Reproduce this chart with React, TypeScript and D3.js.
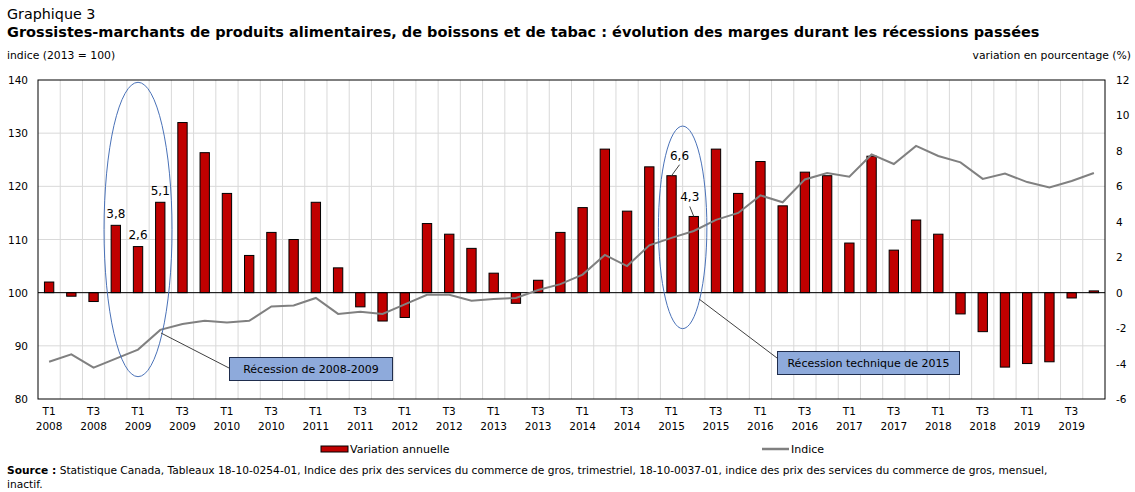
import * as d3 from "d3";

// quarterly series, T1 2008 .. T4 2019
const years = [2008, 2009, 2010, 2011, 2012, 2013, 2014, 2015, 2016, 2017, 2018, 2019];
const quarters = years.flatMap((y) => [1, 2, 3, 4].map((q) => `T${q} ${y}`));

// annual change (%), right axis
const variation = [
  0.6, -0.2, -0.5, 3.8, 2.6, 5.1, 9.6, 7.9, 5.6, 2.1, 3.4, 3.0,
  5.1, 1.4, -0.8, -1.6, -1.4, 3.9, 3.3, 2.5, 1.1, -0.6, 0.7, 3.4,
  4.8, 8.1, 4.6, 7.1, 6.6, 4.3, 8.1, 5.6, 7.4, 4.9, 6.8, 6.6,
  2.8, 7.7, 2.4, 4.1, 3.3, -1.2, -2.2, -4.2, -4.0, -3.9, -0.3, 0.1,
];

// index (2013 = 100), left axis
const indice = [
  87.0, 88.4, 85.9, 87.6, 89.3, 93.0, 94.1, 94.7, 94.4, 94.7, 97.4, 97.6,
  99.0, 96.0, 96.4, 96.0, 97.8, 99.6, 99.6, 98.5, 98.8, 99.0, 100.5, 101.6,
  103.4, 107.1, 105.0, 108.9, 110.3, 111.6, 113.7, 115.0, 118.3, 117.0, 121.3, 122.5,
  121.8, 126.0, 124.2, 127.6, 125.7, 124.5, 121.4, 122.4, 120.8, 119.8, 121.0, 122.5,
];

const leftTicks = [80, 90, 100, 110, 120, 130, 140];
const rightTicks = [-6, -4, -2, 0, 2, 4, 6, 8, 10, 12];

// bars that carry a value label
const barLabels = [
  { i: 3, dx: 0, dy: -6, leader: false },
  { i: 4, dx: 0, dy: -7, leader: false },
  { i: 5, dx: 0, dy: -6, leader: false },
  { i: 28, dx: 8, dy: -15, leader: true },
  { i: 29, dx: -4, dy: -14, leader: true },
];

const FONT = "DejaVu Sans, Verdana, sans-serif";
const W = 1135;
const H = 492;
const plot = { left: 38, right: 1105, top: 80, bottom: 399 };

const fmt = (v: number) => v.toFixed(1).replace(".", ",");

export default function App() {
  const xBand = d3
    .scaleBand<string>()
    .domain(quarters)
    .range([plot.left, plot.right])
    .paddingInner(0.58)
    .paddingOuter(0.29);
  const xCell = d3.scaleBand<string>().domain(quarters).range([plot.left, plot.right]).padding(0);
  const step = xCell.step();
  const cx = (i: number) => xCell(quarters[i])! + step / 2;

  const yL = d3.scaleLinear().domain([80, 140]).range([plot.bottom, plot.top]);
  const yR = d3.scaleLinear().domain([-6, 12]).range([plot.bottom, plot.top]);

  const line = d3
    .line<number>()
    .x((_, i) => cx(i))
    .y((d) => yL(d));

  // recession ellipses (in quarter / value space)
  const ell1 = { x: cx(4), rx: step * 1.53, top: yR(11.87), bottom: yR(-4.74) };
  const ell2 = { x: (cx(28) + cx(29)) / 2, rx: step * 1.09, top: yR(9.4), bottom: yR(-2.03) };

  return (
    <svg width={W} height={H} style={{ position: "absolute", left: 0, top: 0, fontFamily: FONT }}>
      <rect width={W} height={H} fill="#fff" />
      {/* titles */}
      <text x={7} y={19} fontSize={14.3} fill="#000">Graphique 3</text>
      <text x={7} y={37} fontSize={14.5} fontWeight="bold" fill="#000">
        Grossistes-marchants de produits alimentaires, de boissons et de tabac : évolution des marges durant les récessions passées
      </text>
      <text x={7} y={59} fontSize={10.8} fill="#000">indice (2013 = 100)</text>
      <text x={1131} y={59} fontSize={10.8} textAnchor="end" fill="#000">variation en pourcentage (%)</text>

      {/* grid */}
      {quarters.slice(1).map((q) => (
        <line key={q} x1={xCell(q)} x2={xCell(q)} y1={plot.top} y2={plot.bottom} stroke="#d9d9d9" />
      ))}
      {leftTicks.slice(1, -1).map((t) => (
        <line key={t} x1={plot.left} x2={plot.right} y1={yL(t)} y2={yL(t)} stroke="#d9d9d9" />
      ))}

      {/* bars */}
      {variation.map((v, i) => (
        <rect
          key={i}
          x={xBand(quarters[i])}
          width={xBand.bandwidth()}
          y={Math.min(yR(v), yR(0))}
          height={Math.abs(yR(v) - yR(0))}
          fill="#c00000"
          stroke="#000"
          strokeWidth={1}
        />
      ))}
      <line x1={plot.left} x2={plot.right} y1={yR(0)} y2={yR(0)} stroke="#000" />

      {/* index line */}
      <path d={line(indice)!} fill="none" stroke="#808080" strokeWidth={2} />

      {/* frame */}
      <rect
        x={plot.left}
        y={plot.top}
        width={plot.right - plot.left}
        height={plot.bottom - plot.top}
        fill="none"
        stroke="#000"
      />

      {/* value labels */}
      {barLabels.map(({ i, dx, dy, leader }) => {
        const bx = cx(i);
        const by = yR(variation[i]);
        return (
          <g key={i}>
            {leader && <line x1={bx} y1={by} x2={bx + dx} y2={by + dy + 4} stroke="#404040" />}
            <text x={bx + dx} y={by + dy - 1} fontSize={12} textAnchor="middle" fill="#000">
              {fmt(variation[i])}
            </text>
          </g>
        );
      })}

      {/* recession callouts */}
      <ellipse
        cx={ell1.x}
        cy={(ell1.top + ell1.bottom) / 2}
        rx={ell1.rx}
        ry={(ell1.bottom - ell1.top) / 2}
        fill="none"
        stroke="#4a72b8"
      />
      <ellipse
        cx={ell2.x}
        cy={(ell2.top + ell2.bottom) / 2}
        rx={ell2.rx}
        ry={(ell2.bottom - ell2.top) / 2}
        fill="none"
        stroke="#4a72b8"
      />
      <line x1={161} y1={333} x2={229} y2={368} stroke="#404040" />
      <rect x={229.5} y={357.5} width={163} height={23} fill="#8eaadb" stroke="#1f2d4d" />
      <text x={311} y={373} fontSize={11} textAnchor="middle" fill="#000">Récession de 2008-2009</text>
      <line x1={699} y1={299} x2={777} y2={358} stroke="#404040" />
      <rect x={777.5} y={351.5} width={182} height={23} fill="#8eaadb" stroke="#1f2d4d" />
      <text x={868.5} y={367} fontSize={11} textAnchor="middle" fill="#000">Récession technique de 2015</text>

      {/* left axis */}
      {leftTicks.map((t) => (
        <text key={t} x={28} y={yL(t) + 4} fontSize={10.5} textAnchor="end" fill="#000">
          {t}
        </text>
      ))}
      {/* right axis */}
      {rightTicks.map((t) => (
        <text key={t} x={1116} y={yR(t) + 4} fontSize={10.5} fill="#000">
          {t}
        </text>
      ))}
      {/* x axis labels */}
      {quarters.map((q, i) =>
        i % 2 === 0 ? (
          <text key={q} x={cx(i)} y={415} fontSize={10.5} textAnchor="middle" fill="#000">
            <tspan x={cx(i)}>{q.split(" ")[0]}</tspan>
            <tspan x={cx(i)} dy={15}>{q.split(" ")[1]}</tspan>
          </text>
        ) : null
      )}

      {/* legend */}
      <rect x={321} y={446} width={27} height={6} fill="#c00000" stroke="#000" />
      <text x={350} y={453} fontSize={11} fill="#000">Variation annuelle</text>
      <line x1={762} x2={789} y1={449} y2={449} stroke="#808080" strokeWidth={2.5} />
      <text x={791} y={453} fontSize={11} fill="#000">Indice</text>

      {/* source */}
      <text x={7} y={474} fontSize={10.65} fill="#000">
        <tspan fontWeight="bold">Source :</tspan> Statistique Canada, Tableaux 18-10-0254-01, Indice des prix des services du commerce de gros, trimestriel, 18-10-0037-01, indice des prix des services du commerce de gros, mensuel,
      </text>
      <text x={7} y={488} fontSize={10.65} fill="#000">inactif.</text>
    </svg>
  );
}
